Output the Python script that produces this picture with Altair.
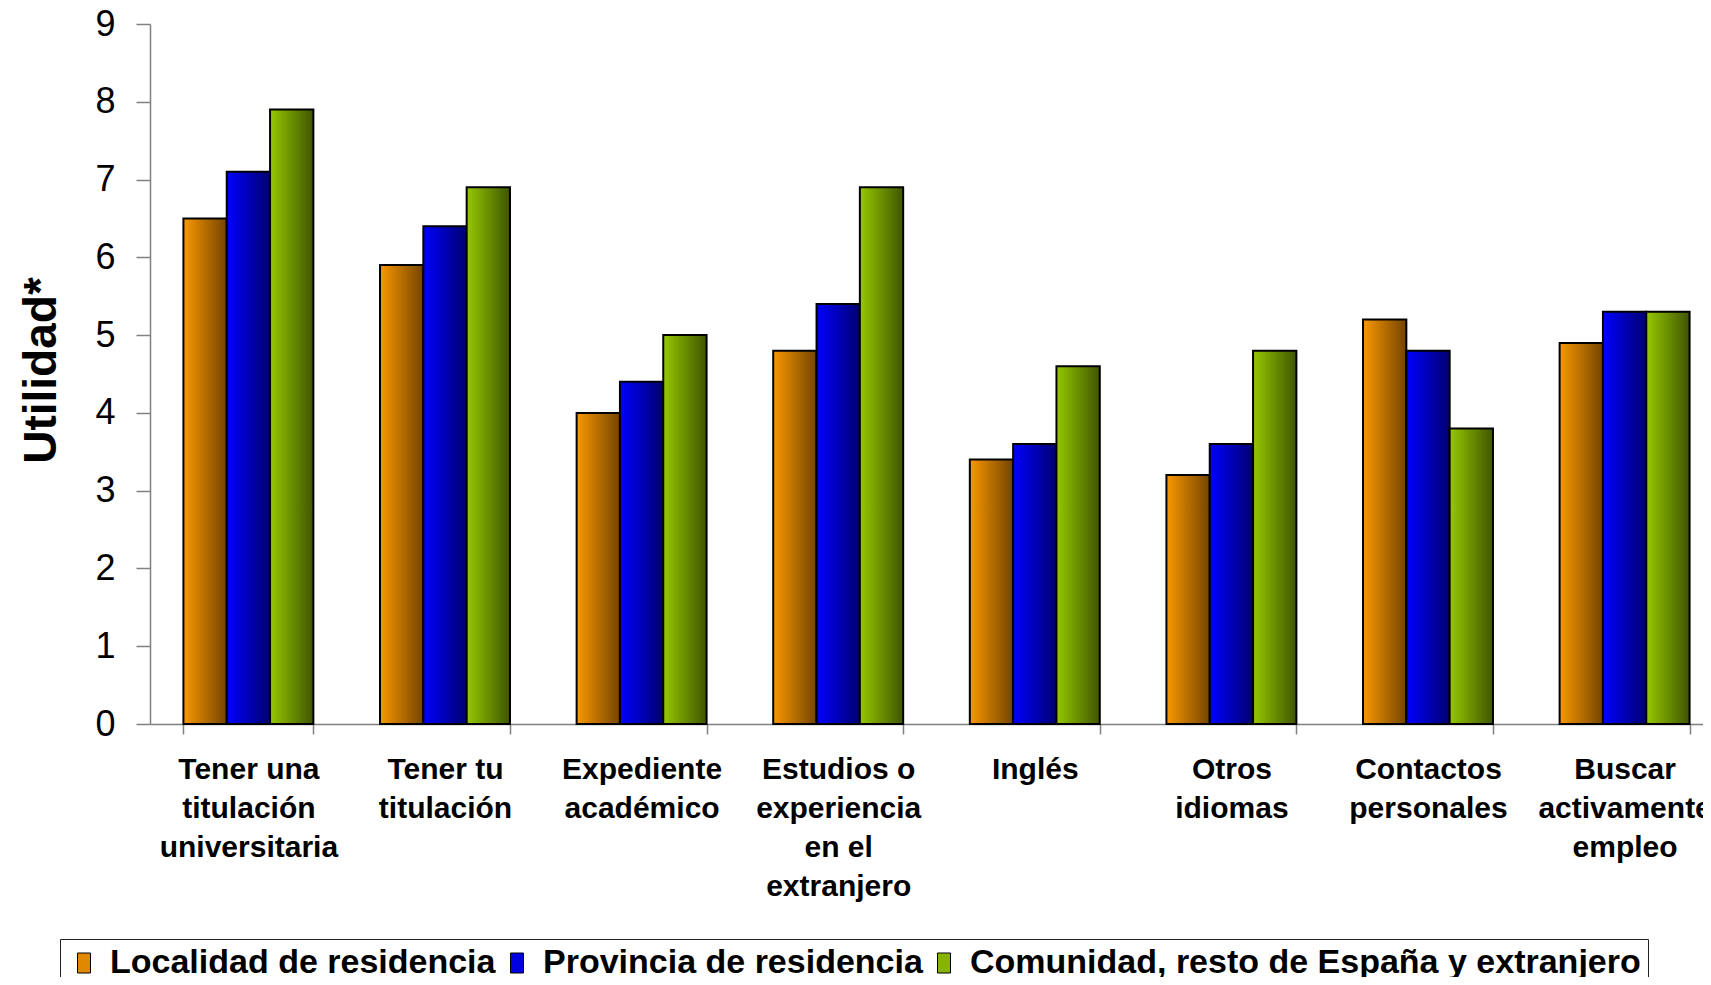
import json
import altair as alt
import pandas as pd

# ---- data ----
categories = [
    "Tener una titulación universitaria",
    "Tener tu titulación",
    "Expediente académico",
    "Estudios o experiencia en el extranjero",
    "Inglés",
    "Otros idiomas",
    "Contactos personales",
    "Buscar activamente empleo",
]
category_lines = [
    ["Tener una", "titulación", "universitaria"],
    ["Tener tu", "titulación"],
    ["Expediente", "académico"],
    ["Estudios o", "experiencia", "en el", "extranjero"],
    ["Inglés"],
    ["Otros", "idiomas"],
    ["Contactos", "personales"],
    ["Buscar", "activamente", "empleo"],
]
series = [
    "Localidad de residencia",
    "Provincia de residencia",
    "Comunidad, resto de España y extranjero",
]
localidad = [6.5, 5.9, 4.0, 4.8, 3.4, 3.2, 5.2, 4.9]
provincia = [7.1, 6.4, 4.4, 5.4, 3.6, 3.6, 4.8, 5.3]
comunidad = [7.9, 6.9, 5.0, 6.9, 4.6, 4.8, 3.8, 5.3]
y_ticks = [0, 1, 2, 3, 4, 5, 6, 7, 8, 9]

# ---- styles ----
bright = ["#F99800", "#0000FF", "#96C800"]
dark = ["#744400", "#000070", "#3F5500"]
legend_colors = ["#E08800", "#0000E0", "#88B400"]

rows = []
for s, vals in zip(series, [localidad, provincia, comunidad]):
    for c, v in zip(categories, vals):
        rows.append({"cat": c, "serie": s, "val": v})
df = pd.DataFrame(rows)

label_map = json.dumps(dict(zip(categories, category_lines)), ensure_ascii=False)

FONT = "Liberation Sans"

x_enc = alt.X(
    "cat:N",
    scale=alt.Scale(domain=categories, range=[0, 1573], paddingInner=0.339, paddingOuter=0.17),
    axis=alt.Axis(
        title=None,
        labelExpr=f"{label_map}[datum.value]",
        labelAngle=0,
        labelFont=FONT,
        labelFontSize=30,
        labelFontWeight="bold",
        labelColor="black",
        labelLineHeight=39,
        labelPadding=20,
        labelLimit=0,
        labelOverlap=False,
        labelBound=False,
        tickBand="extent",
        tickSize=10,
        tickColor="#808080",
        tickWidth=1.5,
        domainColor="#808080",
        domainWidth=1.5,
    ),
)
xoff_enc = alt.XOffset("serie:N", scale=alt.Scale(domain=series, paddingInner=0, paddingOuter=0))
y_enc = alt.Y(
    "val:Q",
    scale=alt.Scale(domain=[0, 9], nice=False),
    axis=alt.Axis(
        title="Utilidad*",
        values=y_ticks,
        grid=False,
        labelFont=FONT,
        labelFontSize=36,
        labelColor="black",
        labelPadding=21,
        tickSize=14,
        tickColor="#808080",
        tickWidth=1.5,
        domainColor="#808080",
        domainWidth=1.5,
        titleFont=FONT,
        titleFontSize=46,
        titleFontWeight="bold",
        titleColor="black",
        titleAngle=270,
        titleAlign="center",
        titleBaseline="alphabetic",
        titleX=-95,
        titleY=346,
    ),
)

legend_layer = alt.Chart(df).mark_bar(opacity=0).encode(
    x=x_enc,
    xOffset=xoff_enc,
    y=y_enc,
    color=alt.Color(
        "serie:N",
        scale=alt.Scale(domain=series, range=legend_colors),
        legend=alt.Legend(
            title=None,
            orient="none",
            legendX=-90,
            legendY=915,
            direction="horizontal",
            columns=3,
            labelFont=FONT,
            labelFontSize=34,
            labelFontWeight="bold",
            labelColor="black",
            labelLimit=1000,
            labelOffset=9,
            columnPadding=4,
            symbolType="M-0.65,-1H0.65V1H-0.65Z",
            symbolSize=400,
            symbolStrokeColor="black",
            symbolStrokeWidth=1,
            symbolOpacity=1,
            padding=7,
            strokeColor="#222222",
            fillColor="white",
        ),
    ),
)

layers = [legend_layer]
for i, s in enumerate(series):
    grad = alt.LinearGradient(
        gradient="linear",
        x1=0, x2=1, y1=0, y2=0,
        stops=[
            alt.GradientStop(color=bright[i], offset=0),
            alt.GradientStop(color=dark[i], offset=1),
        ],
    )
    layers.append(
        alt.Chart(df)
        .transform_filter(alt.datum.serie == s)
        .mark_bar(fill=grad, stroke="black", strokeWidth=2)
        .encode(x=x_enc, xOffset=xoff_enc, y=y_enc)
    )

chart = (
    alt.layer(*layers)
    .properties(
        width=1553,
        height=700,
        autosize=alt.AutoSizeParams(type="none"),
        padding={"left": 142, "top": 16, "right": 0, "bottom": 253},
        background="white",
    )
    .configure_view(stroke=None)
)

chart.save("out.html", embed_options={"renderer": "svg", "actions": False})
